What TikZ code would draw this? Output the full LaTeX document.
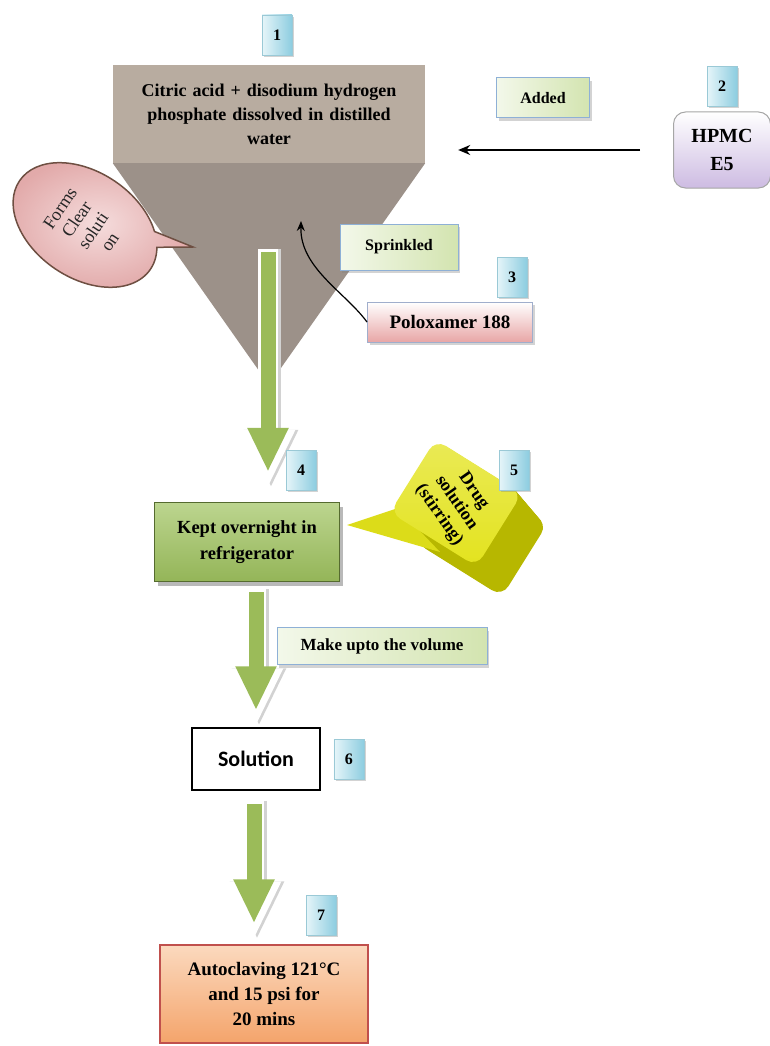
\documentclass[tikz,border=0pt]{standalone}
\usepackage{fontspec}
\setmainfont{Liberation Serif}
\newfontfamily\calfont{Carlito}
\usepackage{tikz}
\usetikzlibrary{arrows.meta,calc,positioning,shadows,shapes.callouts}
\definecolor{taupecol}{HTML}{B8ACA0}
\definecolor{conecol}{HTML}{9C9189}
\definecolor{numlight}{HTML}{E6F5F9}
\definecolor{numdark}{HTML}{8DCDE0}
\definecolor{numedge}{HTML}{9AC9D6}
\definecolor{tagleft}{HTML}{F3F8EA}
\definecolor{tagright}{HTML}{D3E4B0}
\definecolor{tagedge}{HTML}{8EB0D6}
\definecolor{flowcol}{HTML}{9BBB59}
\definecolor{keptlight}{HTML}{BCD58F}
\definecolor{keptdark}{HTML}{94B558}
\definecolor{keptedge}{HTML}{556B2F}
\definecolor{hpmccol}{HTML}{CDBBE2}
\definecolor{polocol}{HTML}{E8A6A6}
\definecolor{bubblein}{HTML}{F5DCDC}
\definecolor{bubbleout}{HTML}{E2AAAA}
\definecolor{bubbleedge}{HTML}{6E4F42}
\definecolor{drugtop}{HTML}{E3E31E}
\definecolor{drugside}{HTML}{B7B700}
\definecolor{autolight}{HTML}{FBD9BE}
\definecolor{autodark}{HTML}{F4A46B}
\definecolor{autoedge}{HTML}{C0504D}

\begin{document}
\begin{tikzpicture}[x=1pt,y=-1pt]
\tikzstyle{numbox}=[rectangle, minimum width=30pt, minimum height=40pt, left color=numlight, right color=numdark, draw=numedge, font=\bfseries\fontsize{16}{16}\selectfont, drop shadow={shadow xshift=2pt,shadow yshift=-2pt,opacity=.35}]
\tikzstyle{tagbox}=[rectangle, draw=tagedge, line width=1pt, left color=tagleft, right color=tagright, font=\bfseries\fontsize{16}{16}\selectfont, drop shadow={shadow xshift=2pt,shadow yshift=-3pt,opacity=.35}]
\tikzstyle{flow}=[draw=flowcol, line width=15pt, shorten >=16pt, -{Triangle[length=44pt,width=38pt]},
  preaction={draw=gray!35, line width=20pt, shorten >=0pt, shorten <=-3pt, -{Triangle[length=58pt,width=50pt]}, transform canvas={xshift=3pt}},
  preaction={draw=white, line width=20pt, shorten >=0pt, shorten <=-3pt, -{Triangle[length=58pt,width=50pt]}}]
\tikzstyle{drugface}=[rectangle, rotate=-32, rounded corners=12pt, minimum width=102pt, minimum height=86pt]
\useasboundingbox (0,0) rectangle (770,1046);

\node[rectangle, fill=taupecol, minimum width=312pt, minimum height=98pt, text width=300pt, align=center, font=\bfseries\fontsize{18}{24}\selectfont] (funnel) at (269,114) {Citric acid + disodium hydrogen\\phosphate dissolved in distilled\\water};
\coordinate (apex) at (269,385);
\fill[conecol] (funnel.south west) -- (funnel.south east) -- (apex) -- cycle;
\node[numbox] (n1) at (277,35) {1};

\node[tagbox, minimum width=93pt, minimum height=40pt] (added) at (543,98) {Added};
\node[rectangle, rounded corners=12pt, draw=gray!70, line width=1pt, top color=white, bottom color=hpmccol, minimum width=97pt, minimum height=76pt, align=center, font=\bfseries\fontsize{20}{28}\selectfont] (hpmc) at (722,150) {HPMC\\E5};
\node[numbox, above=5pt of hpmc] (n2) {2};
\draw[line width=1.8pt, shorten <=33pt, shorten >=33pt, -{Stealth[length=12pt,width=10pt]}] (hpmc.west) -- (hpmc.west -| funnel.east);

\coordinate (bubbletip) at (193,247);
\node[ellipse callout, rotate=56, callout absolute pointer={(bubbletip)}, inner color=bubblein, outer color=bubbleout, draw=bubbleedge, line width=1.5pt, minimum width=106pt, minimum height=158pt, align=center, text=black!85, font=\fontsize{18}{20}\selectfont] (bubble) at (85,225) {Forms\\Clear\\soluti\\on};

\node[tagbox, minimum width=118pt, minimum height=46pt] (sprinkled) at (399,247) {Sprinkled};
\node[numbox] (n3) at (512,277) {3};
\node[rectangle, draw=tagedge!80!polocol, line width=1pt, top color=white, bottom color=polocol, minimum width=165pt, minimum height=40pt, font=\bfseries\fontsize{19}{19}\selectfont, drop shadow={shadow xshift=2pt,shadow yshift=-3pt,opacity=.35}] (polox) at (450,322) {Poloxamer 188};
\coordinate (drop) at (301,221);
\draw[line width=1.2pt, -{Stealth[length=10pt,width=8pt]}] (polox.west) .. controls (345,292) and (300,268) .. (drop);

\node[rectangle, draw=keptedge, line width=1.2pt, top color=keptlight, bottom color=keptdark, minimum width=185pt, minimum height=79pt, align=center, font=\bfseries\fontsize{18.5}{26}\selectfont, drop shadow={shadow xshift=3pt,shadow yshift=-4pt,opacity=.55}] (kept) at (247,542) {Kept overnight in\\refrigerator};
\coordinate (drain) at (268,252);
\draw[flow] (drain) -- ($(drain |- kept.north)+(0,-14)$);
\node[numbox] (n4) at (301,470) {4};

\coordinate (drugc) at (456,503);
\foreach \k in {30,29,...,1}
  \node[drugface, fill=drugside] at ([shift={(0.85*\k,\k)}]drugc) {};
\fill[drugtop!85!drugside] (347,525) -- (398,508) -- (440,552) -- cycle;
\node[drugface, top color=drugtop!75!white, bottom color=drugtop] (drug) at (drugc) {};
\node[rotate=-55, align=center, font=\bfseries\fontsize{18}{21}\selectfont] (drugtext) at (drug.center) {Drug\\solution\\(stirring)};
\node[numbox] (n5) at (514,470) {5};

\node[tagbox, minimum width=210pt, minimum height=37pt, font=\bfseries\fontsize{17}{17}\selectfont] (makeup) at (382,646) {Make upto the volume};
\node[rectangle, draw=black, line width=1.5pt, fill=white, minimum width=128pt, minimum height=62pt, font=\calfont\bfseries\fontsize{22}{22}\selectfont] (solution) at (256,759) {Solution};
\draw[flow] ($(solution.north |- kept.south)+(0,10)$) -- ($(solution.north)+(0,-1)$);
\node[numbox, right=13pt of solution] (n6) {6};

\node[rectangle, draw=autoedge, line width=1.2pt, top color=autolight, bottom color=autodark, minimum width=208pt, minimum height=98pt, align=center, font=\bfseries\fontsize{19}{25}\selectfont] (auto) at (264,994) {Autoclaving 121°C\\and 15 psi for\\20 mins};
\draw[flow] ($(solution.south)+(-2,13)$) -- ($(solution.south |- auto.north)+(-2,-5)$);
\node[numbox] (n7) at (321,915) {7};
\end{tikzpicture}
\end{document}
